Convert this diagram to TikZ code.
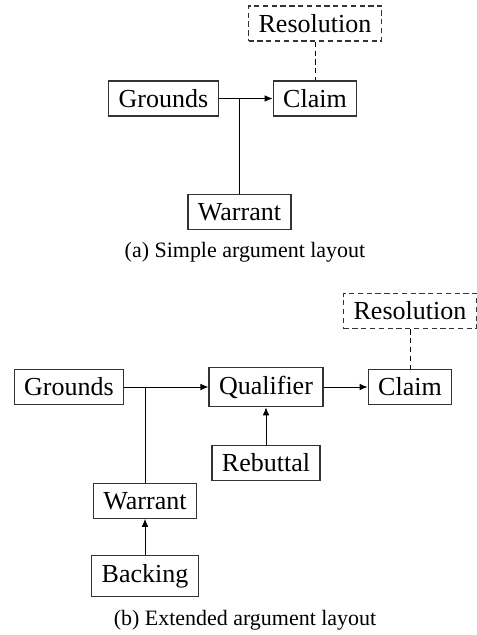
\documentclass[tikz,border=0pt]{standalone}
\usepackage{fontspec}
\setmainfont{Liberation Serif}
\usetikzlibrary{arrows.meta}

\begin{document}
\begin{tikzpicture}[every node/.style={font=\fontsize{14.8}{17}\selectfont},
  box/.style={draw=black!80, line width=0.8pt, inner xsep=0.2cm, inner ysep=0.17cm},
  dashbox/.style={box, dash pattern=on 3pt off 2pt},
  link/.style={line width=0.45pt},
  arrowlink/.style={link, -{Latex[length=4.5pt,width=3.8pt]}},
  dashlink/.style={link, dash pattern=on 3pt off 2pt},
  caption/.style={font=\fontsize{12.5}{15}\selectfont}]
    \useasboundingbox (0,0) rectangle (9.54,-12.70);

    % (a) simple layout
    \node[dashbox] (res1) at (6.30,-0.47) {Resolution};
    \node[box] (grounds1) at (3.27,-1.97) {Grounds};
    \node[box] (claim1) at (6.30,-1.97) {Claim};
    \node[box] (warrant1) at (4.79,-4.24) {Warrant};
    \node[caption] (capa) at (4.90,-5.04) {(a) Simple argument layout};

    \draw[arrowlink] (grounds1) -- (claim1);
    \draw[link] (warrant1) -- (warrant1 |- grounds1);
    \draw[dashlink] (res1) -- (claim1);

    % (b) extended layout
    \node[dashbox] (res2) at (8.20,-6.22) {Resolution};
    \node[box] (grounds2) at (1.38,-7.74) {Grounds};
    \node[box] (qual) at (5.32,-7.74) {Qualifier};
    \node[box] (claim2) at (8.20,-7.74) {Claim};
    \node[box] (rebut) at (5.32,-9.26) {Rebuttal};
    \node[box] (warrant2) at (2.90,-10.02) {Warrant};
    \node[box] (backing) at (2.90,-11.52) {Backing};
    \node[caption] (capb) at (4.90,-12.40) {(b) Extended argument layout};

    \draw[arrowlink] (grounds2) -- (qual);
    \draw[arrowlink] (qual) -- (claim2);
    \draw[arrowlink] (rebut) -- (qual);
    \draw[arrowlink] (backing) -- (warrant2);
    \draw[link] (warrant2) -- (warrant2 |- grounds2);
    \draw[dashlink] (res2) -- (claim2);
\end{tikzpicture}
\end{document}
